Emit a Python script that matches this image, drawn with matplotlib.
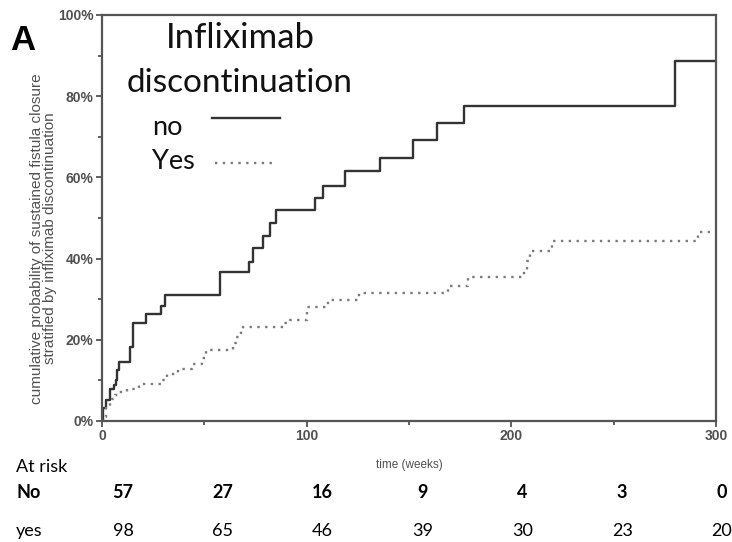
import numpy as np
import matplotlib.pyplot as plt
from matplotlib.lines import Line2D

# -------------------------------
# Data
# -------------------------------
no_t = [0, 0.7, 2, 4, 6, 7, 7.5, 8.2, 13.7, 15, 21.4, 29, 31, 57.5, 72, 74,
        78.5, 82, 85, 104, 108, 118.5, 136, 152, 163.5, 177, 280, 300]
no_p = [0, 3.2, 5.2, 8.0, 8.9, 10.1, 12.6, 14.5, 18.3, 24.2, 26.4, 28.3, 31.0,
        36.8, 39.2, 42.5, 45.6, 48.7, 52.0, 55.0, 58.0, 61.6, 64.7, 69.3, 73.5,
        77.6, 88.7, 88.7]

yes_t = [0, 0.5, 2, 4, 5, 6.5, 8, 12, 18, 29, 32, 37, 44, 49, 51, 64, 65.5, 68,
         69, 89, 92, 100, 110.5, 125.5, 169, 179, 206, 207.5, 209, 220, 291, 297]
yes_p = [0, 1.0, 3.1, 4.5, 5.5, 6.4, 7.1, 8.0, 9.1, 10.1, 11.6, 12.8, 14.0,
         15.4, 17.6, 19.3, 20.8, 22.4, 23.2, 24.1, 24.9, 28.0, 29.8, 31.5, 33.3,
         35.4, 37.0, 39.5, 41.9, 44.3, 46.6, 46.6]

risk_no = [57, 27, 16, 9, 4, 3, 0]
risk_yes = [98, 65, 46, 39, 30, 23, 20]

x_ticks = [0, 100, 200, 300]
y_ticks = [0, 20, 40, 60, 80, 100]

# -------------------------------
# Figure
# -------------------------------
fig = plt.figure(figsize=(7.32, 5.42), dpi=100)
ax = fig.add_axes([102 / 732, 1 - 421 / 542, 614 / 732, 406 / 542])

ax.step(no_t, no_p, where='post', color='#333333', lw=1.7)
ax.step(yes_t, yes_p, where='post', color='#7a7a7a', lw=1.7,
        linestyle=(0, (1, 2.3)))

ax.set_xlim(0, 300)
ax.set_ylim(0, 100)
ax.set_xticks(x_ticks)
ax.set_xticks([50, 150, 250], minor=True)
ax.set_yticks(y_ticks)
ax.set_yticks([10, 30, 50, 70, 90], minor=True)
ax.set_yticklabels([f"{v}%" for v in y_ticks])

for s in ax.spines.values():
    s.set_color('#555555')
    s.set_linewidth(1.6)

ax.tick_params(which='both', direction='out', color='#555555', width=1.3,
               labelsize=10, labelcolor='#505050')
ax.tick_params(which='major', length=4, pad=2)
ax.tick_params(which='minor', length=3)
for lab in ax.get_xticklabels() + ax.get_yticklabels():
    lab.set_fontfamily('Liberation Sans')
    lab.set_fontweight('bold')

ax.set_ylabel("cumulative probability of sustained fistula closure\n"
              "stratified by infliximab discontinuation",
              fontsize=11, color='#505050', family='Liberation Sans',
              linespacing=0.9)
ax.yaxis.set_label_coords(-0.074, 0.45)
ax.set_xlabel("time (weeks)", fontsize=8.5, color='#505050',
              family='Liberation Sans', labelpad=11)

# legend drawn by hand
lf = 'Lato'
ax.text(0.2248, 0.9433, "Infliximab", transform=ax.transAxes, ha='center',
        va='center', fontsize=25, family=lf, color='#111111')
ax.text(0.2248, 0.8325, "discontinuation", transform=ax.transAxes,
        ha='center', va='center', fontsize=24, family=lf, color='#111111')
ax.text(0.0814, 0.724, "no", transform=ax.transAxes, ha='left', va='center',
        fontsize=19.5, family=lf, color='#111111')
ax.text(0.0814, 0.640, "Yes", transform=ax.transAxes, ha='left', va='center',
        fontsize=19.5, family=lf, color='#111111')
ax.add_line(Line2D([0.179, 0.290], [0.746, 0.746], transform=ax.transAxes,
                   color='#333333', lw=1.7))
ax.add_line(Line2D([0.184, 0.282], [0.635, 0.635], transform=ax.transAxes,
                   color='#7a7a7a', lw=1.7, linestyle=(0, (1, 2.3))))

# panel letter
fig.text(10 / 732, 1 - 41 / 542, "A", fontsize=25, fontweight='bold',
         family='Liberation Sans', va='center', ha='left')

# at-risk table
fig.text(16 / 732, 1 - 467 / 542, "At risk", fontsize=13, family=lf,
         va='center', ha='left')
fig.text(16 / 732, 1 - 493 / 542, "No", fontsize=13, family=lf,
         fontweight='bold', va='center', ha='left')
fig.text(16 / 732, 1 - 531 / 542, "yes", fontsize=13, family=lf,
         va='center', ha='left')
cols = np.linspace(123, 722, len(risk_no))
for cx, a, b in zip(cols, risk_no, risk_yes):
    fig.text(cx / 732, 1 - 493 / 542, str(a), fontsize=13, family=lf,
             fontweight='bold', ha='center', va='center')
    fig.text(cx / 732, 1 - 531 / 542, str(b), fontsize=13, family=lf,
             ha='center', va='center')

fig.savefig("out.png", dpi=100)
